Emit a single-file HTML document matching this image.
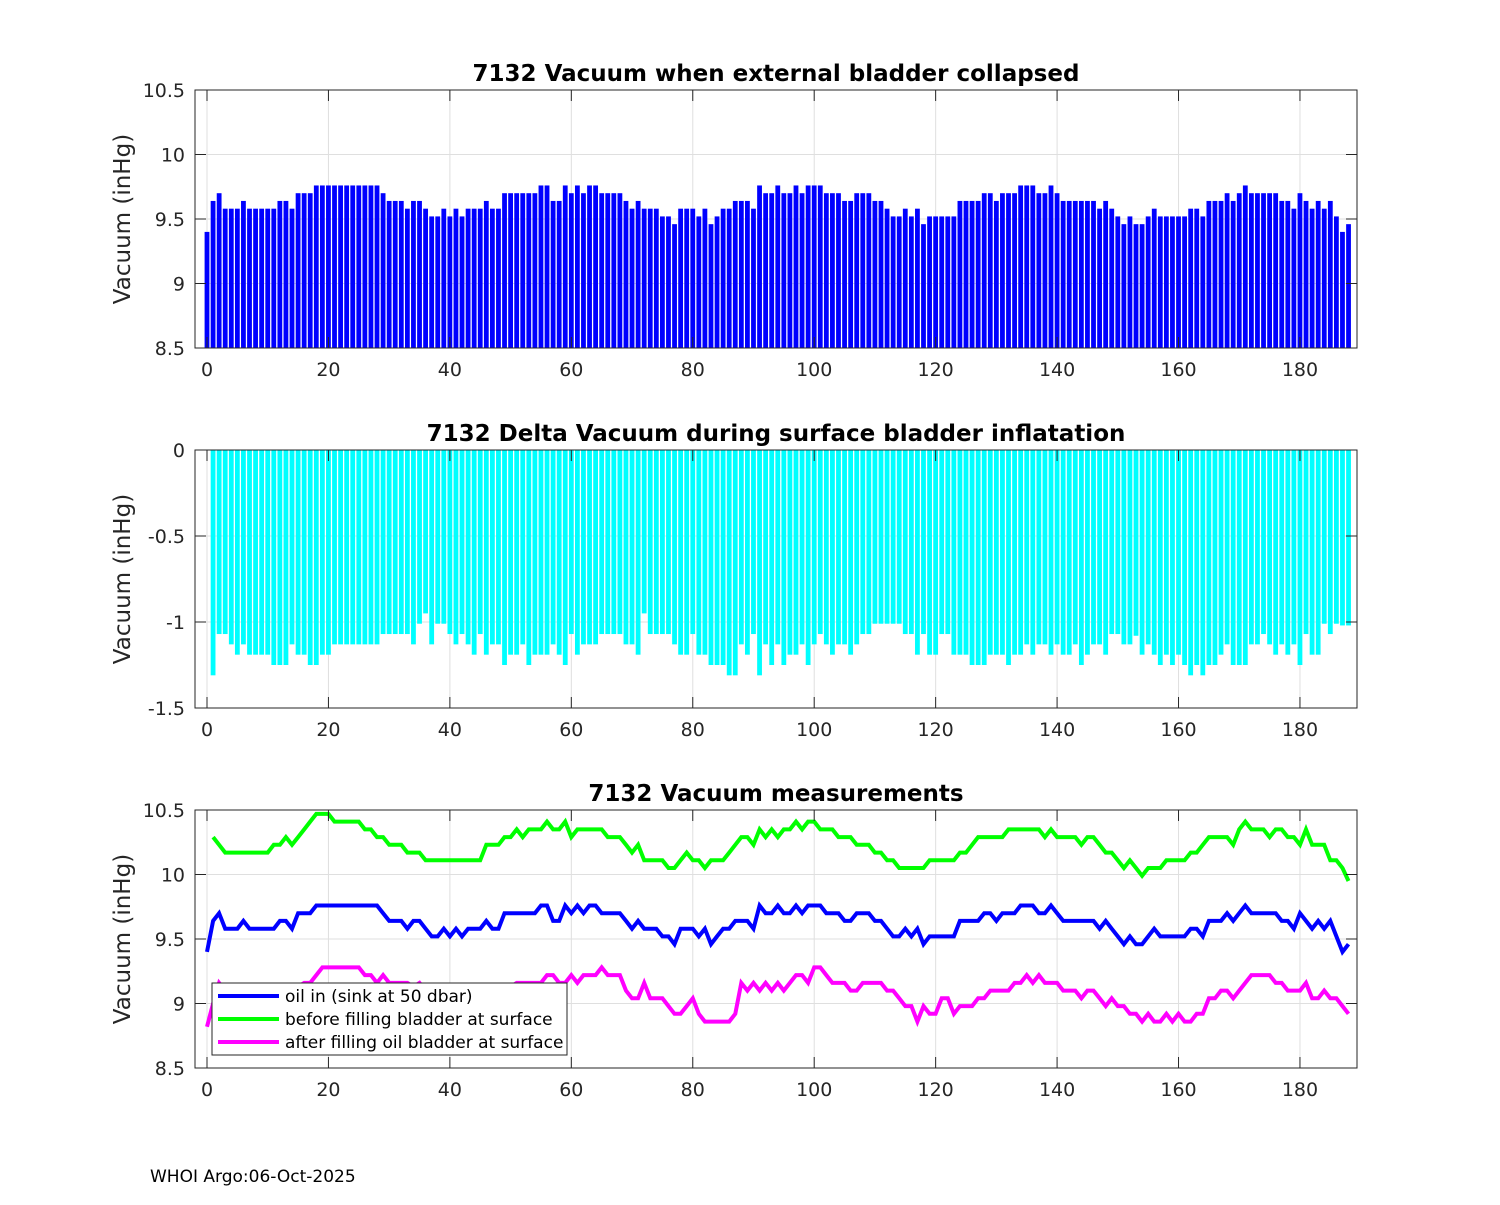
<!DOCTYPE html>
<html><head><meta charset="utf-8"><style>
html,body{margin:0;padding:0;background:#fff;}
svg text{font-family:"DejaVu Sans","Liberation Sans",sans-serif;}
</style></head><body>
<svg id="chart" width="1500" height="1200" xmlns="http://www.w3.org/2000/svg">
<rect width="1500" height="1200" fill="#fff"/>
<text x="150" y="1182" font-size="17" fill="#000">WHOI Argo:06-Oct-2025</text>
</svg>
<script>
const xTicks=[0,20,40,60,80,100,120,140,160,180];
const yTicks1=[8.5,9,9.5,10,10.5];
const yTicks2=[-1.5,-1,-0.5,0];
const yTicks3=[8.5,9,9.5,10,10.5];
const oilIn=[9.40,9.64,9.70,9.58,9.58,9.58,9.64,9.58,9.58,9.58,9.58,9.58,9.64,9.64,9.58,9.70,9.70,9.70,9.76,9.76,9.76,9.76,9.76,9.76,9.76,9.76,9.76,9.76,9.76,9.70,9.64,9.64,9.64,9.58,9.64,9.64,9.58,9.52,9.52,9.58,9.52,9.58,9.52,9.58,9.58,9.58,9.64,9.58,9.58,9.70,9.70,9.70,9.70,9.70,9.70,9.76,9.76,9.64,9.64,9.76,9.70,9.76,9.70,9.76,9.76,9.70,9.70,9.70,9.70,9.64,9.58,9.64,9.58,9.58,9.58,9.52,9.52,9.46,9.58,9.58,9.58,9.52,9.58,9.46,9.52,9.58,9.58,9.64,9.64,9.64,9.58,9.76,9.70,9.70,9.76,9.70,9.70,9.76,9.70,9.76,9.76,9.76,9.70,9.70,9.70,9.64,9.64,9.70,9.70,9.70,9.64,9.64,9.58,9.52,9.52,9.58,9.52,9.58,9.46,9.52,9.52,9.52,9.52,9.52,9.64,9.64,9.64,9.64,9.70,9.70,9.64,9.70,9.70,9.70,9.76,9.76,9.76,9.70,9.70,9.76,9.70,9.64,9.64,9.64,9.64,9.64,9.64,9.58,9.64,9.58,9.52,9.46,9.52,9.46,9.46,9.52,9.58,9.52,9.52,9.52,9.52,9.52,9.58,9.58,9.52,9.64,9.64,9.64,9.70,9.64,9.70,9.76,9.70,9.70,9.70,9.70,9.70,9.64,9.64,9.58,9.70,9.64,9.58,9.64,9.58,9.64,9.52,9.40,9.46];
const deltaVac=[null,-1.31,-1.07,-1.07,-1.13,-1.19,-1.13,-1.19,-1.19,-1.19,-1.19,-1.25,-1.25,-1.25,-1.13,-1.19,-1.19,-1.25,-1.25,-1.19,-1.19,-1.13,-1.13,-1.13,-1.13,-1.13,-1.13,-1.13,-1.13,-1.07,-1.07,-1.07,-1.07,-1.07,-1.13,-1.01,-0.95,-1.13,-1.01,-1.01,-1.07,-1.13,-1.07,-1.13,-1.19,-1.07,-1.19,-1.13,-1.13,-1.25,-1.19,-1.19,-1.13,-1.25,-1.19,-1.19,-1.19,-1.13,-1.19,-1.25,-1.07,-1.19,-1.13,-1.13,-1.13,-1.07,-1.07,-1.07,-1.07,-1.13,-1.13,-1.19,-0.95,-1.07,-1.07,-1.07,-1.07,-1.13,-1.19,-1.19,-1.07,-1.19,-1.19,-1.25,-1.25,-1.25,-1.31,-1.31,-1.13,-1.19,-1.07,-1.31,-1.13,-1.25,-1.13,-1.25,-1.19,-1.19,-1.13,-1.25,-1.13,-1.07,-1.13,-1.19,-1.13,-1.13,-1.19,-1.13,-1.07,-1.07,-1.01,-1.01,-1.01,-1.01,-1.01,-1.07,-1.07,-1.19,-1.07,-1.19,-1.19,-1.07,-1.07,-1.19,-1.19,-1.19,-1.25,-1.25,-1.25,-1.19,-1.19,-1.19,-1.25,-1.19,-1.19,-1.13,-1.19,-1.13,-1.13,-1.19,-1.13,-1.19,-1.19,-1.13,-1.25,-1.19,-1.13,-1.13,-1.19,-1.07,-1.07,-1.13,-1.13,-1.08,-1.19,-1.13,-1.19,-1.25,-1.19,-1.25,-1.19,-1.25,-1.31,-1.25,-1.31,-1.25,-1.25,-1.19,-1.13,-1.25,-1.25,-1.25,-1.13,-1.13,-1.07,-1.13,-1.19,-1.13,-1.19,-1.13,-1.25,-1.07,-1.19,-1.19,-1.01,-1.07,-1.01,-1.02,-1.02];
const beforeFill=[null,10.29,10.23,10.17,10.17,10.17,10.17,10.17,10.17,10.17,10.17,10.23,10.23,10.29,10.23,10.29,10.35,10.41,10.47,10.47,10.47,10.41,10.41,10.41,10.41,10.41,10.35,10.35,10.29,10.29,10.23,10.23,10.23,10.17,10.17,10.17,10.11,10.11,10.11,10.11,10.11,10.11,10.11,10.11,10.11,10.11,10.23,10.23,10.23,10.29,10.29,10.35,10.29,10.35,10.35,10.35,10.41,10.35,10.35,10.41,10.29,10.35,10.35,10.35,10.35,10.35,10.29,10.29,10.29,10.23,10.17,10.23,10.11,10.11,10.11,10.11,10.05,10.05,10.11,10.17,10.11,10.11,10.05,10.11,10.11,10.11,10.17,10.23,10.29,10.29,10.23,10.35,10.29,10.35,10.29,10.35,10.35,10.41,10.35,10.41,10.41,10.35,10.35,10.35,10.29,10.29,10.29,10.23,10.23,10.23,10.17,10.17,10.11,10.11,10.05,10.05,10.05,10.05,10.05,10.11,10.11,10.11,10.11,10.11,10.17,10.17,10.23,10.29,10.29,10.29,10.29,10.29,10.35,10.35,10.35,10.35,10.35,10.35,10.29,10.35,10.29,10.29,10.29,10.29,10.23,10.29,10.29,10.23,10.17,10.17,10.11,10.05,10.11,10.05,9.99,10.05,10.05,10.05,10.11,10.11,10.11,10.11,10.17,10.17,10.23,10.29,10.29,10.29,10.29,10.23,10.35,10.41,10.35,10.35,10.35,10.29,10.35,10.35,10.29,10.29,10.23,10.35,10.23,10.23,10.23,10.11,10.11,10.05,9.95];
const afterFill=[8.82,9.00,9.16,9.10,9.10,9.10,9.10,9.10,9.10,9.10,9.10,9.10,9.10,9.10,9.10,9.13,9.16,9.16,9.22,9.28,9.28,9.28,9.28,9.28,9.28,9.28,9.22,9.22,9.16,9.22,9.16,9.16,9.16,9.16,9.13,9.16,9.10,9.10,9.10,9.10,9.10,9.10,9.10,9.10,9.10,9.13,9.13,9.13,9.13,9.13,9.13,9.16,9.16,9.16,9.16,9.16,9.22,9.22,9.16,9.16,9.22,9.16,9.22,9.22,9.22,9.28,9.22,9.22,9.22,9.10,9.04,9.04,9.16,9.04,9.04,9.04,8.98,8.92,8.92,8.98,9.04,8.92,8.86,8.86,8.86,8.86,8.86,8.92,9.16,9.10,9.16,9.10,9.16,9.10,9.16,9.10,9.16,9.22,9.22,9.16,9.28,9.28,9.22,9.16,9.16,9.16,9.10,9.10,9.16,9.16,9.16,9.16,9.10,9.10,9.04,8.98,8.98,8.86,8.98,8.92,8.92,9.04,9.04,8.92,8.98,8.98,8.98,9.04,9.04,9.10,9.10,9.10,9.10,9.16,9.16,9.22,9.16,9.22,9.16,9.16,9.16,9.10,9.10,9.10,9.04,9.10,9.10,9.04,8.98,9.04,8.98,8.98,8.92,8.92,8.86,8.92,8.86,8.86,8.92,8.86,8.92,8.86,8.86,8.92,8.92,9.04,9.04,9.10,9.10,9.04,9.10,9.16,9.22,9.22,9.22,9.22,9.16,9.16,9.10,9.10,9.10,9.16,9.04,9.04,9.10,9.04,9.04,8.98,8.92];

const NS='http://www.w3.org/2000/svg';
const svg=document.getElementById('chart');
const L=195,R=1357;
const xS=v=>207+v*6.072;
function mk(tag,attrs,parent){const e=document.createElementNS(NS,tag);for(const k in attrs)e.setAttribute(k,attrs[k]);(parent||svg).appendChild(e);return e;}

function panel(name,top,bot,ymin,ymax,yt,title){
  const g=mk('g',{});
  
  
  const yS=v=>bot-(v-ymin)/(ymax-ymin)*(bot-top);
  mk('rect',{x:L,y:top,width:R-L,height:bot-top,fill:'#fff'},g);
  xTicks.forEach(t=>{const l=mk('line',{x1:xS(t),x2:xS(t),y1:top,y2:bot,stroke:'#dfdfdf','stroke-width':1},g);});
  yt.forEach(t=>{const l=mk('line',{x1:L,x2:R,y1:yS(t),y2:yS(t),stroke:'#dfdfdf','stroke-width':1},g);});
  const plot=mk('g',{},g);
  
  
  const frame=mk('g',{},g);
  
  
  mk('rect',{x:L,y:top,width:R-L,height:bot-top,fill:'none',stroke:'#262626','stroke-width':1},frame);
  xTicks.forEach(t=>{
    mk('line',{x1:xS(t),x2:xS(t),y1:bot,y2:bot-11,stroke:'#262626'},frame);
    mk('line',{x1:xS(t),x2:xS(t),y1:top,y2:top+11,stroke:'#262626'},frame);
    const tx=mk('text',{x:xS(t),y:bot+28,'font-size':19,'text-anchor':'middle',fill:'#262626'},frame);
    
    
    tx.textContent=t;
  });
  yt.forEach(t=>{
    mk('line',{x1:L,x2:L+11,y1:yS(t),y2:yS(t),stroke:'#262626'},frame);
    mk('line',{x1:R,x2:R-11,y1:yS(t),y2:yS(t),stroke:'#262626'},frame);
    const tx=mk('text',{x:L-10,y:yS(t)+7,'font-size':19,'text-anchor':'end',fill:'#262626'},frame);
    
    
    tx.textContent=t;
  });
  const tt=mk('text',{x:776,y:top-9,'font-size':23,'font-weight':'bold','text-anchor':'middle',fill:'#000'},g);
  
  
  tt.textContent=title;
  const cy=(top+bot)/2;
  const yl=mk('text',{x:130,y:cy,'font-size':23,'text-anchor':'middle',fill:'#262626',transform:`rotate(-90 130 ${cy})`},g);
  
  
  yl.textContent='Vacuum (inHg)';
  g.appendChild(frame);
  return {plot,yS};
}

const bw=4.8;
const p1=panel('panel-vacuum-collapsed',90,348,8.5,10.5,yTicks1,'7132 Vacuum when external bladder collapsed');
oilIn.forEach((v,i)=>{if(v==null)return;
  const r=mk('rect',{x:xS(i)-bw/2,y:p1.yS(v),width:bw,height:p1.yS(8.5)-p1.yS(v),fill:'#0000ff'},p1.plot);
  
  
});
const p2=panel('panel-delta-vacuum',450,708,-1.5,0,yTicks2,'7132 Delta Vacuum during surface bladder inflatation');
deltaVac.forEach((v,i)=>{if(v==null)return;
  const r=mk('rect',{x:xS(i)-bw/2,y:p2.yS(0),width:bw,height:p2.yS(v)-p2.yS(0),fill:'#00ffff'},p2.plot);
  
  
});
const p3=panel('panel-vacuum-measurements',810,1068,8.5,10.5,yTicks3,'7132 Vacuum measurements');
function line(arr,color,name){
  let d='';arr.forEach((v,i)=>{if(v==null)return;d+=(d?'L':'M')+xS(i).toFixed(1)+','+p3.yS(v).toFixed(1);});
  const p=mk('path',{d:d,fill:'none',stroke:color,'stroke-width':4,'stroke-linejoin':'miter'},p3.plot);
  
  
}
line(oilIn,'#0000ff','line-oil-in');
line(beforeFill,'#00ff00','line-before-filling');
line(afterFill,'#ff00ff','line-after-filling');
const lg=mk('g',{});


mk('rect',{x:212,y:983,width:355,height:72,fill:'#fff',stroke:'#262626','stroke-width':1},lg);
const legendLabels=['oil in (sink at 50 dbar)','before filling bladder at surface','after filling oil bladder at surface'];
const legendColors=['#0000ff','#00ff00','#ff00ff'];
legendLabels.forEach((t,k)=>{
  const y=996+k*23;
  const e=mk('g',{},lg);
  
  
  mk('line',{x1:218,x2:279,y1:y,y2:y,stroke:legendColors[k],'stroke-width':4},e);
  const tx=mk('text',{x:285,y:y+6,'font-size':17,fill:'#000'},e);
  tx.textContent=t;
});
</script>
</body></html>
